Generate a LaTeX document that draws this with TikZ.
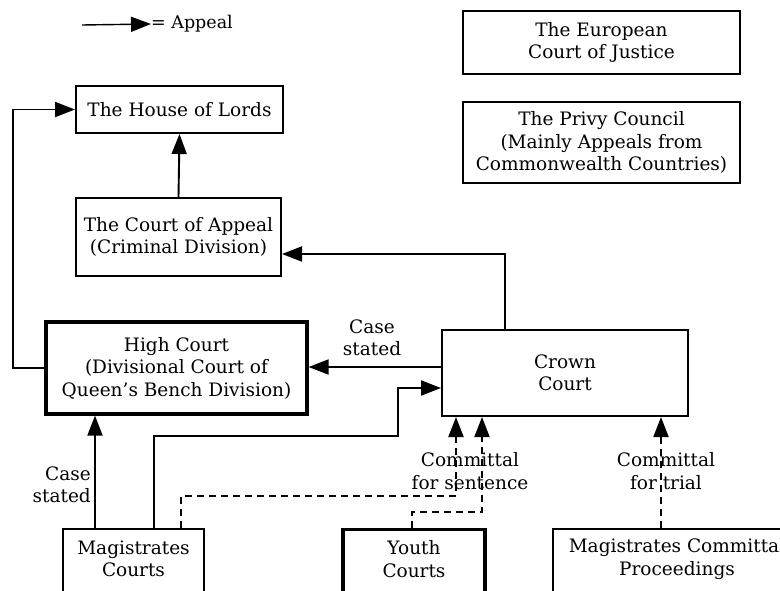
\documentclass[tikz,border=0pt]{standalone}
\usepackage{fontspec}
\setmainfont{DejaVu Serif}
\usetikzlibrary{arrows.meta}

\begin{document}
\begin{tikzpicture}[x=1pt,y=-1pt,
  court/.style={draw,line width=2pt,align=center,inner sep=0pt,font=\fontsize{18.5}{22.5}\selectfont},
  bigcourt/.style={court,line width=3.2pt},
  lbl/.style={align=center,inner sep=0pt,font=\fontsize{18.5}{22.5}\selectfont},
  appeal/.style={line width=1.9pt,-{Triangle[length=20pt,width=15pt]}},
  committal/.style={appeal,dash pattern=on 7pt off 5pt}]
\clip (0,0) rectangle (780,590);
\coordinate (legstart) at (82,25);
\node[lbl,anchor=west,font=\fontsize{17.5}{20}\selectfont] (legtext) at (151,24) {= Appeal};
\draw[appeal,line width=1.4pt] (legstart) -- (legtext.west);
\node[court,minimum width=277pt,minimum height=63pt] (ecj) at (601.5,42.5) {The European\\Court of Justice};
\node[court,minimum width=277pt,minimum height=81pt] (privy) at (601.5,142.5) {The Privy Council\\(Mainly Appeals from\\Commonwealth Countries)};
\node[court,minimum width=207pt,minimum height=47pt] (hol) at (179.5,109.5) {The House of Lords};
\node[court,minimum width=205pt,minimum height=78pt] (coa) at (178.5,237) {The Court of Appeal\\(Criminal Division)};
\node[bigcourt,minimum width=261pt,minimum height=92pt] (high) at (176.5,368) {High Court\\(Divisional Court of\\Queen's Bench Division)};
\node[court,minimum width=246pt,minimum height=86pt] (crown) at (565,373) {Crown\\Court};
\node[court,minimum width=141pt,minimum height=112pt,anchor=north] (mag) at (133.5,528) {};
\node[lbl] (magtext) at ([yshift=-31pt]mag.north) {Magistrates\\Courts};
\node[bigcourt,minimum width=142pt,minimum height=112pt,anchor=north] (youth) at (414,528) {};
\node[lbl] (youthtext) at ([yshift=-31pt]youth.north) {Youth\\Courts};
\node[court,minimum width=248pt,minimum height=112pt,anchor=north] (mcp) at (677,528) {};
\node[lbl] (mcptext) at ([yshift=-31pt]mcp.north) {Magistrates Committal\\Proceedings};
\draw[appeal] (high.west) -- ++(-31,0) |- (hol.west);
\draw[appeal] (coa.north) -- (hol.south);
\draw[appeal] ([xshift=64pt]crown.north west) |- ([yshift=23pt]coa.south east);
\draw[appeal] ([yshift=6pt]crown.west) -- ([yshift=6pt]crown.west -| high.east);
\node[lbl] (casehigh) at (372,338) {Case\\stated};
\draw[appeal] ([xshift=92pt]mag.north west) -- ++(0,-92) -| (398,388) -- ([yshift=-15pt]crown.west);
\draw[appeal] ([xshift=33pt]mag.north west) -- ([xshift=33pt]mag.north west |- high.south);
\node[lbl,align=right,anchor=east] (casemag) at (91,485) {Case\\stated};
\draw[committal] ([xshift=119pt]mag.north west) -- ++(0,-32) -| ([xshift=15pt]crown.south west);
\draw[committal] ([xshift=71pt]youth.north west) -- ++(0,-16) -| ([xshift=41pt]crown.south west);
\draw[committal] ([xshift=109pt]mcp.north west) -- ([xshift=220pt]crown.south west);
\node[lbl] (commsent) at (470,471) {Committal\\for sentence};
\node[lbl] (commtrial) at (666,471) {Committal\\for trial};
\end{tikzpicture}
\end{document}
